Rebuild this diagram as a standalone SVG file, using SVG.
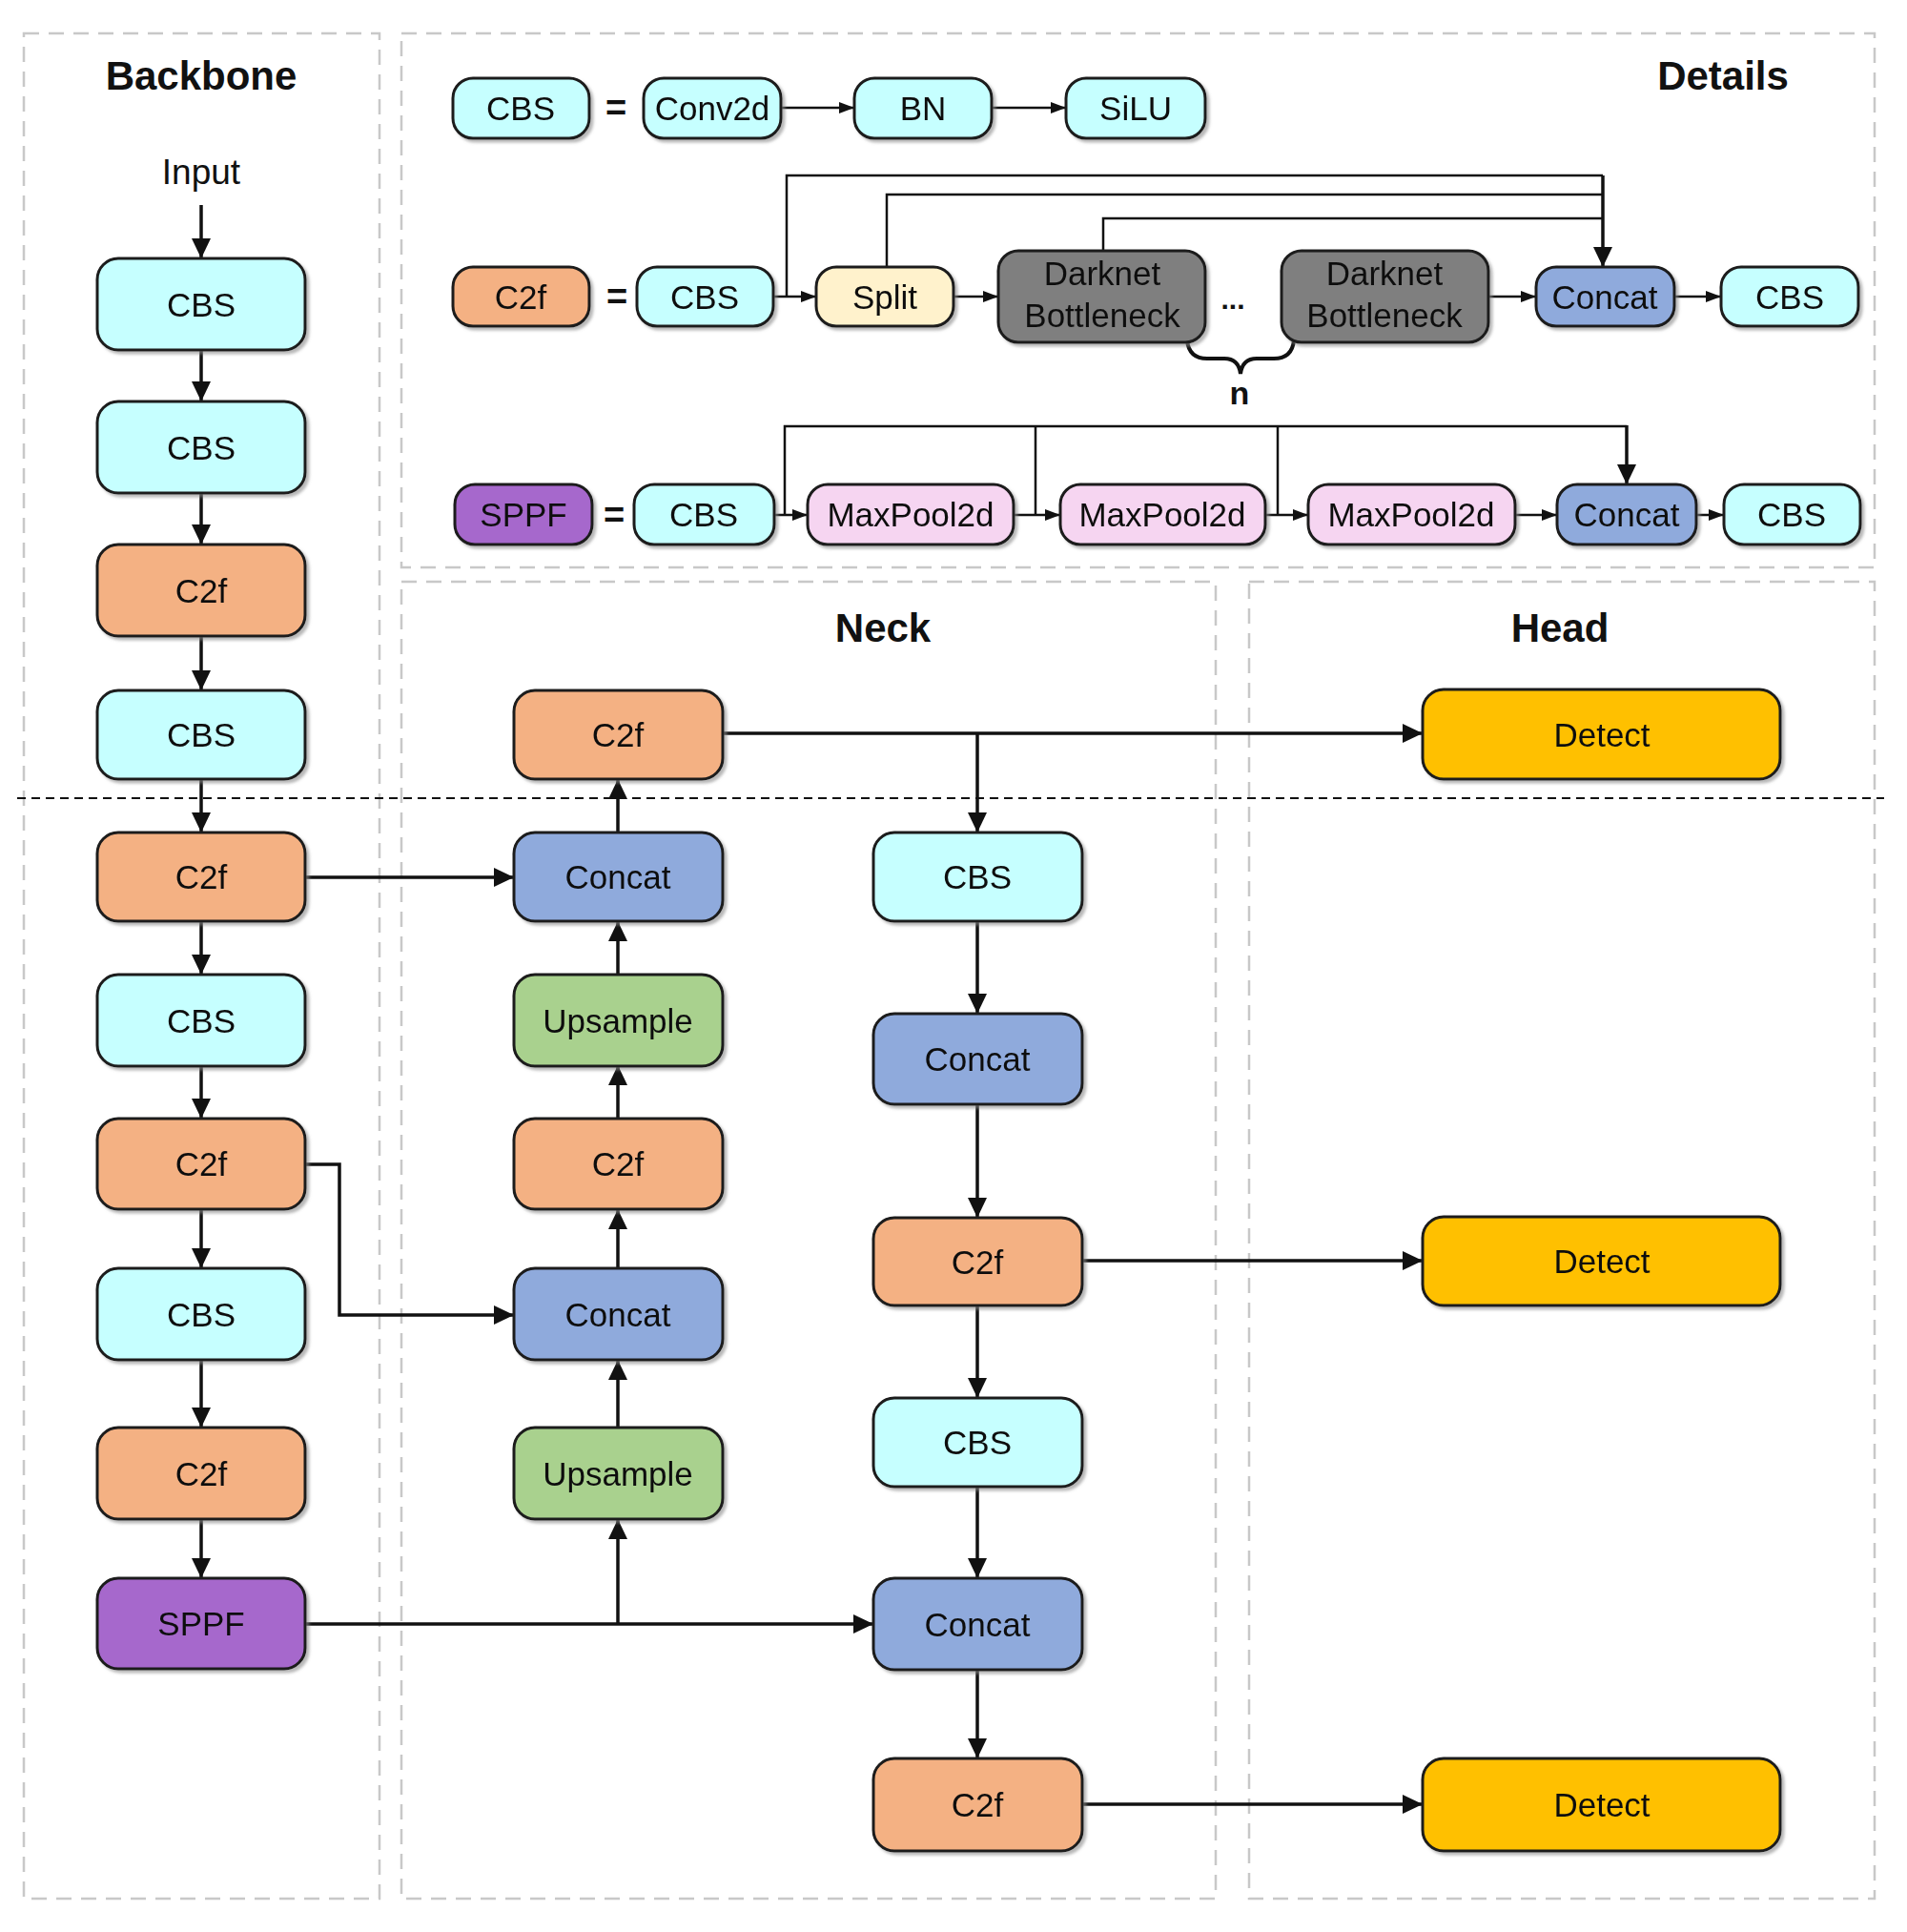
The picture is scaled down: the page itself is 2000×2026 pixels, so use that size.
<svg xmlns="http://www.w3.org/2000/svg" width="2000" height="2026" viewBox="0 0 2000 2026">
<style>
text{font-family:"Liberation Sans",Arial,sans-serif;fill:#111;text-anchor:middle}
.t{font-size:35px}
.ts{font-size:35px}
.title{font-size:42px;font-weight:bold}
.eq{font-size:38px;font-weight:bold}
.sec{fill:none;stroke:#c8c8c8;stroke-width:2.5;stroke-dasharray:16 10}
.div{fill:none;stroke:#111;stroke-width:2;stroke-dasharray:9 6}
.n rect{stroke:#1a1a1a;stroke-width:3}
.cbs{fill:#C6FFFF}.c2f{fill:#F4B183}.cat{fill:#8FAADC}.up{fill:#A9D18E}.sppf{fill:#A667CC}.det{fill:#FFC000}.mp{fill:#F6D5F1}.split{fill:#FFF2CC}.dbn{fill:#7F7F7F}
.c{fill:none;stroke:#111;stroke-width:3.5}
.cs{fill:none;stroke:#111;stroke-width:2.5}
</style>
<defs>
<filter id="sh" x="-10%" y="-10%" width="130%" height="140%">
<feDropShadow dx="3" dy="3" stdDeviation="1.5" flood-color="#888" flood-opacity="0.6"/>
</filter>
<marker id="ah" markerUnits="userSpaceOnUse" markerWidth="21" markerHeight="20" refX="21" refY="10" orient="auto">
<path d="M0,0 L21,10 L0,20 z" fill="#111"/>
</marker>
<marker id="as" markerUnits="userSpaceOnUse" markerWidth="16" markerHeight="12" refX="16" refY="6" orient="auto">
<path d="M0,0 L16,6 L0,12 z" fill="#111"/>
</marker>
</defs>
<rect width="2000" height="2026" fill="#fff"/>

<g id="sections">
<rect class="sec" x="25" y="35" width="373" height="1956"/>
<rect class="sec" x="421" y="35" width="1545" height="560"/>
<rect class="sec" x="421" y="610" width="854" height="1381"/>
<rect class="sec" x="1310" y="610" width="656" height="1381"/>
<line class="div" x1="18" y1="837" x2="1976" y2="837"/>
<text class="title" x="211" y="94">Backbone</text>
<text class="title" x="1807" y="94">Details</text>
<text class="title" x="926" y="673">Neck</text>
<text class="title" x="1636" y="673">Head</text>
<text x="211" y="193" style="font-size:37px">Input</text>
</g>

<g id="connectors">
<line class="c" x1="211" y1="215" x2="211" y2="271" marker-end="url(#ah)"/>
<line class="c" x1="211" y1="366" x2="211" y2="421" marker-end="url(#ah)"/>
<line class="c" x1="211" y1="516" x2="211" y2="571" marker-end="url(#ah)"/>
<line class="c" x1="211" y1="666" x2="211" y2="724" marker-end="url(#ah)"/>
<line class="c" x1="211" y1="817" x2="211" y2="873" marker-end="url(#ah)"/>
<line class="c" x1="211" y1="966" x2="211" y2="1022" marker-end="url(#ah)"/>
<line class="c" x1="211" y1="1117" x2="211" y2="1173" marker-end="url(#ah)"/>
<line class="c" x1="211" y1="1268" x2="211" y2="1330" marker-end="url(#ah)"/>
<line class="c" x1="211" y1="1425" x2="211" y2="1497" marker-end="url(#ah)"/>
<line class="c" x1="211" y1="1592" x2="211" y2="1655" marker-end="url(#ah)"/>
<line class="c" x1="320" y1="920" x2="539" y2="920" marker-end="url(#ah)"/>
<polyline class="c" points="320,1221 356,1221 356,1379 539,1379" marker-end="url(#ah)"/>
<line class="c" x1="320" y1="1703" x2="916" y2="1703" marker-end="url(#ah)"/>
<line class="c" x1="648" y1="1703" x2="648" y2="1593" marker-end="url(#ah)"/>
<line class="c" x1="648" y1="1497" x2="648" y2="1426" marker-end="url(#ah)"/>
<line class="c" x1="648" y1="1330" x2="648" y2="1268" marker-end="url(#ah)"/>
<line class="c" x1="648" y1="1173" x2="648" y2="1117" marker-end="url(#ah)"/>
<line class="c" x1="648" y1="1022" x2="648" y2="966" marker-end="url(#ah)"/>
<line class="c" x1="648" y1="873" x2="648" y2="817" marker-end="url(#ah)"/>
<line class="c" x1="758" y1="769" x2="1492" y2="769" marker-end="url(#ah)"/>
<line class="c" x1="1025" y1="769" x2="1025" y2="873" marker-end="url(#ah)"/>
<line class="c" x1="1025" y1="966" x2="1025" y2="1063" marker-end="url(#ah)"/>
<line class="c" x1="1025" y1="1158" x2="1025" y2="1277" marker-end="url(#ah)"/>
<line class="c" x1="1135" y1="1322" x2="1492" y2="1322" marker-end="url(#ah)"/>
<line class="c" x1="1025" y1="1369" x2="1025" y2="1466" marker-end="url(#ah)"/>
<line class="c" x1="1025" y1="1559" x2="1025" y2="1655" marker-end="url(#ah)"/>
<line class="c" x1="1025" y1="1751" x2="1025" y2="1844" marker-end="url(#ah)"/>
<line class="c" x1="1135" y1="1892" x2="1492" y2="1892" marker-end="url(#ah)"/>
<line class="cs" x1="819" y1="113" x2="896" y2="113" marker-end="url(#as)"/>
<line class="cs" x1="1040" y1="113" x2="1118" y2="113" marker-end="url(#as)"/>
<line class="cs" x1="811" y1="311" x2="856" y2="311" marker-end="url(#as)"/>
<line class="cs" x1="1000" y1="311" x2="1047" y2="311" marker-end="url(#as)"/>
<line class="cs" x1="1561" y1="311" x2="1611" y2="311" marker-end="url(#as)"/>
<line class="cs" x1="1756" y1="311" x2="1805" y2="311" marker-end="url(#as)"/>
<polyline class="cs" points="825,311 825,184 1681,184"/>
<polyline class="cs" points="930,280 930,204 1681,204"/>
<polyline class="cs" points="1157,263 1157,229 1681,229"/>
<line class="c" x1="1681" y1="184" x2="1681" y2="280" marker-end="url(#ah)"/>
<path d="M1245,357 Q1247,376 1266,376 L1284,376 Q1299,376 1301,392 Q1303,376 1318,376 L1336,376 Q1355,376 1357,357" fill="none" stroke="#111" stroke-width="4"/>
<line class="cs" x1="812" y1="540" x2="847" y2="540" marker-end="url(#as)"/>
<line class="cs" x1="1063" y1="540" x2="1112" y2="540" marker-end="url(#as)"/>
<line class="cs" x1="1327" y1="540" x2="1372" y2="540" marker-end="url(#as)"/>
<line class="cs" x1="1589" y1="540" x2="1633" y2="540" marker-end="url(#as)"/>
<line class="cs" x1="1779" y1="540" x2="1808" y2="540" marker-end="url(#as)"/>
<polyline class="cs" points="823,540 823,447 1706,447"/>
<line class="cs" x1="1086" y1="447" x2="1086" y2="540"/>
<line class="cs" x1="1340" y1="447" x2="1340" y2="540"/>
<line class="c" x1="1706" y1="446" x2="1706" y2="508" marker-end="url(#ah)"/>
</g>

<g id="details-labels">
<text class="eq" x="646" y="126">=</text>
<text class="eq" x="647" y="324">=</text>
<text class="eq" x="644" y="553">=</text>
<text x="1293" y="324" style="font-size:30px;font-weight:bold">...</text>
<text x="1300" y="424" style="font-size:34px;font-weight:bold">n</text>
</g>

<g filter="url(#sh)">
<g id="bb-cbs1" class="n"><rect class="cbs" x="102" y="271" width="218" height="96" rx="22"/><text class="t" x="211" y="332">CBS</text></g>
<g id="bb-cbs2" class="n"><rect class="cbs" x="102" y="421" width="218" height="96" rx="22"/><text class="t" x="211" y="482">CBS</text></g>
<g id="bb-c2f1" class="n"><rect class="c2f" x="102" y="571" width="218" height="96" rx="22"/><text class="t" x="211" y="632">C2f</text></g>
<g id="bb-cbs3" class="n"><rect class="cbs" x="102" y="724" width="218" height="93" rx="22"/><text class="t" x="211" y="783">CBS</text></g>
<g id="bb-c2f2" class="n"><rect class="c2f" x="102" y="873" width="218" height="93" rx="22"/><text class="t" x="211" y="932">C2f</text></g>
<g id="bb-cbs4" class="n"><rect class="cbs" x="102" y="1022" width="218" height="96" rx="22"/><text class="t" x="211" y="1083">CBS</text></g>
<g id="bb-c2f3" class="n"><rect class="c2f" x="102" y="1173" width="218" height="95" rx="22"/><text class="t" x="211" y="1233">C2f</text></g>
<g id="bb-cbs5" class="n"><rect class="cbs" x="102" y="1330" width="218" height="96" rx="22"/><text class="t" x="211" y="1391">CBS</text></g>
<g id="bb-c2f4" class="n"><rect class="c2f" x="102" y="1497" width="218" height="96" rx="22"/><text class="t" x="211" y="1558">C2f</text></g>
<g id="bb-sppf" class="n"><rect class="sppf" x="102" y="1655" width="218" height="95" rx="22"/><text class="t" x="211" y="1715">SPPF</text></g>
<g id="nk-c2f-top" class="n"><rect class="c2f" x="539" y="724" width="219" height="93" rx="22"/><text class="t" x="648" y="783">C2f</text></g>
<g id="nk-concat1" class="n"><rect class="cat" x="539" y="873" width="219" height="93" rx="22"/><text class="t" x="648" y="932">Concat</text></g>
<g id="nk-up1" class="n"><rect class="up" x="539" y="1022" width="219" height="96" rx="22"/><text class="t" x="648" y="1083">Upsample</text></g>
<g id="nk-c2f-mid" class="n"><rect class="c2f" x="539" y="1173" width="219" height="95" rx="22"/><text class="t" x="648" y="1233">C2f</text></g>
<g id="nk-concat2" class="n"><rect class="cat" x="539" y="1330" width="219" height="96" rx="22"/><text class="t" x="648" y="1391">Concat</text></g>
<g id="nk-up2" class="n"><rect class="up" x="539" y="1497" width="219" height="96" rx="22"/><text class="t" x="648" y="1558">Upsample</text></g>
<g id="nk-cbs1" class="n"><rect class="cbs" x="916" y="873" width="219" height="93" rx="22"/><text class="t" x="1025" y="932">CBS</text></g>
<g id="nk-concat3" class="n"><rect class="cat" x="916" y="1063" width="219" height="95" rx="22"/><text class="t" x="1025" y="1123">Concat</text></g>
<g id="nk-c2f2" class="n"><rect class="c2f" x="916" y="1277" width="219" height="92" rx="22"/><text class="t" x="1025" y="1336">C2f</text></g>
<g id="nk-cbs2" class="n"><rect class="cbs" x="916" y="1466" width="219" height="93" rx="22"/><text class="t" x="1025" y="1525">CBS</text></g>
<g id="nk-concat4" class="n"><rect class="cat" x="916" y="1655" width="219" height="96" rx="22"/><text class="t" x="1025" y="1716">Concat</text></g>
<g id="nk-c2f3" class="n"><rect class="c2f" x="916" y="1844" width="219" height="97" rx="22"/><text class="t" x="1025" y="1905">C2f</text></g>
<g id="hd-detect1" class="n"><rect class="det" x="1492" y="723" width="375" height="94" rx="22"/><text class="t" x="1680" y="783">Detect</text></g>
<g id="hd-detect2" class="n"><rect class="det" x="1492" y="1276" width="375" height="93" rx="22"/><text class="t" x="1680" y="1335">Detect</text></g>
<g id="hd-detect3" class="n"><rect class="det" x="1492" y="1844" width="375" height="97" rx="22"/><text class="t" x="1680" y="1905">Detect</text></g>
<g id="d-cbs" class="n"><rect class="cbs" x="475" y="82" width="143" height="63" rx="21"/><text class="ts" x="546" y="126">CBS</text></g>
<g id="d-conv" class="n"><rect class="cbs" x="675" y="82" width="144" height="63" rx="21"/><text class="ts" x="747" y="126">Conv2d</text></g>
<g id="d-bn" class="n"><rect class="cbs" x="896" y="82" width="144" height="63" rx="21"/><text class="ts" x="968" y="126">BN</text></g>
<g id="d-silu" class="n"><rect class="cbs" x="1118" y="82" width="146" height="63" rx="21"/><text class="ts" x="1191" y="126">SiLU</text></g>
<g id="d-c2f" class="n"><rect class="c2f" x="475" y="280" width="143" height="62" rx="21"/><text class="ts" x="546" y="324">C2f</text></g>
<g id="d-c2f-cbs1" class="n"><rect class="cbs" x="668" y="280" width="143" height="62" rx="21"/><text class="ts" x="739" y="324">CBS</text></g>
<g id="d-split" class="n"><rect class="split" x="856" y="280" width="144" height="62" rx="21"/><text class="ts" x="928" y="324">Split</text></g>
<g id="d-db1" class="n"><rect class="dbn" x="1047" y="263" width="217" height="96" rx="21"/><text class="ts" x="1156" y="299">Darknet</text><text class="ts" x="1156" y="343">Bottleneck</text></g>
<g id="d-db2" class="n"><rect class="dbn" x="1344" y="263" width="217" height="96" rx="21"/><text class="ts" x="1452" y="299">Darknet</text><text class="ts" x="1452" y="343">Bottleneck</text></g>
<g id="d-c2f-concat" class="n"><rect class="cat" x="1611" y="280" width="145" height="62" rx="21"/><text class="ts" x="1683" y="324">Concat</text></g>
<g id="d-c2f-cbs2" class="n"><rect class="cbs" x="1805" y="280" width="144" height="62" rx="21"/><text class="ts" x="1877" y="324">CBS</text></g>
<g id="d-sppf" class="n"><rect class="sppf" x="477" y="508" width="144" height="63" rx="21"/><text class="ts" x="549" y="552">SPPF</text></g>
<g id="d-sppf-cbs1" class="n"><rect class="cbs" x="665" y="508" width="147" height="63" rx="21"/><text class="ts" x="738" y="552">CBS</text></g>
<g id="d-mp1" class="n"><rect class="mp" x="847" y="508" width="216" height="63" rx="21"/><text class="ts" x="955" y="552">MaxPool2d</text></g>
<g id="d-mp2" class="n"><rect class="mp" x="1112" y="508" width="215" height="63" rx="21"/><text class="ts" x="1219" y="552">MaxPool2d</text></g>
<g id="d-mp3" class="n"><rect class="mp" x="1372" y="508" width="217" height="63" rx="21"/><text class="ts" x="1480" y="552">MaxPool2d</text></g>
<g id="d-sppf-concat" class="n"><rect class="cat" x="1633" y="508" width="146" height="63" rx="21"/><text class="ts" x="1706" y="552">Concat</text></g>
<g id="d-sppf-cbs2" class="n"><rect class="cbs" x="1808" y="508" width="143" height="63" rx="21"/><text class="ts" x="1879" y="552">CBS</text></g>
</g>
</svg>
